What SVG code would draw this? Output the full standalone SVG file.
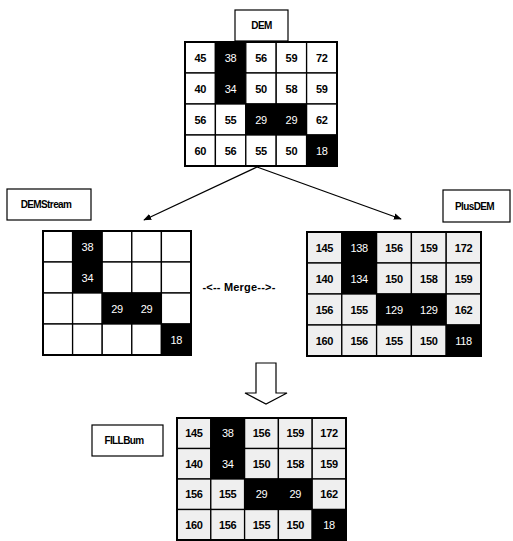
<svg xmlns="http://www.w3.org/2000/svg" width="513" height="541" viewBox="0 0 513 541">
<style>
.lbl{fill:#fff;stroke:#000;stroke-width:1.2}
.lt{font-family:"Liberation Sans",Arial,sans-serif;font-size:10px;font-weight:bold;fill:#000;text-anchor:middle;letter-spacing:-0.6px}
.w{fill:#fff;stroke:#000;stroke-width:1.3}
.g{fill:#efefef;stroke:#000;stroke-width:1.3}
.k{fill:#000;stroke:#000;stroke-width:1.3}
.n{font-family:"Liberation Sans",Arial,sans-serif;font-size:11px;font-weight:bold;fill:#000;text-anchor:middle;letter-spacing:-0.3px}
.nw{font-family:"Liberation Sans",Arial,sans-serif;font-size:11px;fill:#fff;text-anchor:middle;letter-spacing:-0.3px}
.frame{fill:none;stroke:#000;stroke-width:2}
.conn{stroke:#000;stroke-width:1.3;fill:none}
</style>
<defs>
<marker id="ah" viewBox="0 0 10 10" refX="9" refY="5" markerWidth="8" markerHeight="8" markerUnits="userSpaceOnUse" orient="auto"><path d="M0,1 L10,5 L0,9 z" fill="#000"/></marker>
</defs>

<g id="DEM-label"><rect class="lbl" x="235" y="10" width="53" height="31"/><text class="lt" x="261.5" y="29">DEM</text></g>

<g id="DEM">
<rect class="w" x="185" y="42" width="30.4" height="31"/><text class="n" x="200.2" y="61.5">45</text>
<rect class="k" x="215.4" y="42" width="30.4" height="31"/><text class="nw" x="230.6" y="61.5">38</text>
<rect class="w" x="245.8" y="42" width="30.4" height="31"/><text class="n" x="261" y="61.5">56</text>
<rect class="w" x="276.2" y="42" width="30.4" height="31"/><text class="n" x="291.4" y="61.5">59</text>
<rect class="w" x="306.6" y="42" width="30.4" height="31"/><text class="n" x="321.8" y="61.5">72</text>
<rect class="w" x="185" y="73" width="30.4" height="31"/><text class="n" x="200.2" y="92.5">40</text>
<rect class="k" x="215.4" y="73" width="30.4" height="31"/><text class="nw" x="230.6" y="92.5">34</text>
<rect class="w" x="245.8" y="73" width="30.4" height="31"/><text class="n" x="261" y="92.5">50</text>
<rect class="w" x="276.2" y="73" width="30.4" height="31"/><text class="n" x="291.4" y="92.5">58</text>
<rect class="w" x="306.6" y="73" width="30.4" height="31"/><text class="n" x="321.8" y="92.5">59</text>
<rect class="w" x="185" y="104" width="30.4" height="31"/><text class="n" x="200.2" y="123.5">56</text>
<rect class="w" x="215.4" y="104" width="30.4" height="31"/><text class="n" x="230.6" y="123.5">55</text>
<rect class="k" x="245.8" y="104" width="30.4" height="31"/><text class="nw" x="261" y="123.5">29</text>
<rect class="k" x="276.2" y="104" width="30.4" height="31"/><text class="nw" x="291.4" y="123.5">29</text>
<rect class="w" x="306.6" y="104" width="30.4" height="31"/><text class="n" x="321.8" y="123.5">62</text>
<rect class="w" x="185" y="135" width="30.4" height="31"/><text class="n" x="200.2" y="154.5">60</text>
<rect class="w" x="215.4" y="135" width="30.4" height="31"/><text class="n" x="230.6" y="154.5">56</text>
<rect class="w" x="245.8" y="135" width="30.4" height="31"/><text class="n" x="261" y="154.5">55</text>
<rect class="w" x="276.2" y="135" width="30.4" height="31"/><text class="n" x="291.4" y="154.5">50</text>
<rect class="k" x="306.6" y="135" width="30.4" height="31"/><text class="nw" x="321.8" y="154.5">18</text>
<rect class="frame" x="185" y="42" width="152" height="124"/>
</g>

<g id="connectors">
<line class="conn" x1="257" y1="167" x2="144" y2="220" marker-end="url(#ah)"/>
<line class="conn" x1="257" y1="167" x2="401" y2="219" marker-end="url(#ah)"/>
<path d="M256,363 L276,363 L276,393 L287,393 L266,404 L245,393 L256,393 Z" fill="#fff" stroke="#000" stroke-width="1.2"/>
</g>

<g id="DEMStream-label"><rect class="lbl" x="7" y="189" width="84" height="31"/><text class="lt" x="46" y="208">DEMStream</text></g>

<g id="DEMStream">
<rect class="w" x="43" y="231" width="29.6" height="31"/>
<rect class="k" x="72.6" y="231" width="29.6" height="31"/><text class="nw" x="87.4" y="250.5">38</text>
<rect class="w" x="102.2" y="231" width="29.6" height="31"/>
<rect class="w" x="131.8" y="231" width="29.6" height="31"/>
<rect class="w" x="161.4" y="231" width="29.6" height="31"/>
<rect class="w" x="43" y="262" width="29.6" height="31"/>
<rect class="k" x="72.6" y="262" width="29.6" height="31"/><text class="nw" x="87.4" y="281.5">34</text>
<rect class="w" x="102.2" y="262" width="29.6" height="31"/>
<rect class="w" x="131.8" y="262" width="29.6" height="31"/>
<rect class="w" x="161.4" y="262" width="29.6" height="31"/>
<rect class="w" x="43" y="293" width="29.6" height="31"/>
<rect class="w" x="72.6" y="293" width="29.6" height="31"/>
<rect class="k" x="102.2" y="293" width="29.6" height="31"/><text class="nw" x="117" y="312.5">29</text>
<rect class="k" x="131.8" y="293" width="29.6" height="31"/><text class="nw" x="146.6" y="312.5">29</text>
<rect class="w" x="161.4" y="293" width="29.6" height="31"/>
<rect class="w" x="43" y="324" width="29.6" height="31"/>
<rect class="w" x="72.6" y="324" width="29.6" height="31"/>
<rect class="w" x="102.2" y="324" width="29.6" height="31"/>
<rect class="w" x="131.8" y="324" width="29.6" height="31"/>
<rect class="k" x="161.4" y="324" width="29.6" height="31"/><text class="nw" x="176.2" y="343.5">18</text>
<rect class="frame" x="43" y="231" width="148" height="124"/>
</g>

<g id="Merge"><text class="lt" x="239" y="291" style="font-size:11px;letter-spacing:0.2px;text-anchor:middle">-&lt;-- Merge--&gt;-</text></g>

<g id="PlusDEM-label"><rect class="lbl" x="443" y="190" width="67" height="32"/><text class="lt" x="474.5" y="209.5">PlusDEM</text></g>

<g id="PlusDEM">
<rect class="g" x="307" y="232" width="34.8" height="31"/><text class="n" x="324.4" y="251.5">145</text>
<rect class="k" x="341.8" y="232" width="34.8" height="31"/><text class="nw" x="359.2" y="251.5">138</text>
<rect class="g" x="376.6" y="232" width="34.8" height="31"/><text class="n" x="394" y="251.5">156</text>
<rect class="g" x="411.4" y="232" width="34.8" height="31"/><text class="n" x="428.8" y="251.5">159</text>
<rect class="g" x="446.2" y="232" width="34.8" height="31"/><text class="n" x="463.6" y="251.5">172</text>
<rect class="g" x="307" y="263" width="34.8" height="31"/><text class="n" x="324.4" y="282.5">140</text>
<rect class="k" x="341.8" y="263" width="34.8" height="31"/><text class="nw" x="359.2" y="282.5">134</text>
<rect class="g" x="376.6" y="263" width="34.8" height="31"/><text class="n" x="394" y="282.5">150</text>
<rect class="g" x="411.4" y="263" width="34.8" height="31"/><text class="n" x="428.8" y="282.5">158</text>
<rect class="g" x="446.2" y="263" width="34.8" height="31"/><text class="n" x="463.6" y="282.5">159</text>
<rect class="g" x="307" y="294" width="34.8" height="31"/><text class="n" x="324.4" y="313.5">156</text>
<rect class="g" x="341.8" y="294" width="34.8" height="31"/><text class="n" x="359.2" y="313.5">155</text>
<rect class="k" x="376.6" y="294" width="34.8" height="31"/><text class="nw" x="394" y="313.5">129</text>
<rect class="k" x="411.4" y="294" width="34.8" height="31"/><text class="nw" x="428.8" y="313.5">129</text>
<rect class="g" x="446.2" y="294" width="34.8" height="31"/><text class="n" x="463.6" y="313.5">162</text>
<rect class="g" x="307" y="325" width="34.8" height="31"/><text class="n" x="324.4" y="344.5">160</text>
<rect class="g" x="341.8" y="325" width="34.8" height="31"/><text class="n" x="359.2" y="344.5">156</text>
<rect class="g" x="376.6" y="325" width="34.8" height="31"/><text class="n" x="394" y="344.5">155</text>
<rect class="g" x="411.4" y="325" width="34.8" height="31"/><text class="n" x="428.8" y="344.5">150</text>
<rect class="k" x="446.2" y="325" width="34.8" height="31"/><text class="nw" x="463.6" y="344.5">118</text>
<rect class="frame" x="307" y="232" width="174" height="124"/>
</g>

<g id="FILLBum-label"><rect class="lbl" x="92" y="425" width="71" height="31"/><text class="lt" x="124" y="444">FILLBum</text></g>

<g id="FILLBum">
<rect class="g" x="177" y="418" width="33.8" height="30.5"/><text class="n" x="193.9" y="437.3">145</text>
<rect class="k" x="210.8" y="418" width="33.8" height="30.5"/><text class="nw" x="227.7" y="437.3">38</text>
<rect class="g" x="244.6" y="418" width="33.8" height="30.5"/><text class="n" x="261.5" y="437.3">156</text>
<rect class="g" x="278.4" y="418" width="33.8" height="30.5"/><text class="n" x="295.3" y="437.3">159</text>
<rect class="g" x="312.2" y="418" width="33.8" height="30.5"/><text class="n" x="329.1" y="437.3">172</text>
<rect class="g" x="177" y="448.5" width="33.8" height="30.5"/><text class="n" x="193.9" y="467.8">140</text>
<rect class="k" x="210.8" y="448.5" width="33.8" height="30.5"/><text class="nw" x="227.7" y="467.8">34</text>
<rect class="g" x="244.6" y="448.5" width="33.8" height="30.5"/><text class="n" x="261.5" y="467.8">150</text>
<rect class="g" x="278.4" y="448.5" width="33.8" height="30.5"/><text class="n" x="295.3" y="467.8">158</text>
<rect class="g" x="312.2" y="448.5" width="33.8" height="30.5"/><text class="n" x="329.1" y="467.8">159</text>
<rect class="g" x="177" y="479" width="33.8" height="30.5"/><text class="n" x="193.9" y="498.3">156</text>
<rect class="g" x="210.8" y="479" width="33.8" height="30.5"/><text class="n" x="227.7" y="498.3">155</text>
<rect class="k" x="244.6" y="479" width="33.8" height="30.5"/><text class="nw" x="261.5" y="498.3">29</text>
<rect class="k" x="278.4" y="479" width="33.8" height="30.5"/><text class="nw" x="295.3" y="498.3">29</text>
<rect class="g" x="312.2" y="479" width="33.8" height="30.5"/><text class="n" x="329.1" y="498.3">162</text>
<rect class="g" x="177" y="509.5" width="33.8" height="30.5"/><text class="n" x="193.9" y="528.8">160</text>
<rect class="g" x="210.8" y="509.5" width="33.8" height="30.5"/><text class="n" x="227.7" y="528.8">156</text>
<rect class="g" x="244.6" y="509.5" width="33.8" height="30.5"/><text class="n" x="261.5" y="528.8">155</text>
<rect class="g" x="278.4" y="509.5" width="33.8" height="30.5"/><text class="n" x="295.3" y="528.8">150</text>
<rect class="k" x="312.2" y="509.5" width="33.8" height="30.5"/><text class="nw" x="329.1" y="528.8">18</text>
<rect class="frame" x="177" y="418" width="169" height="122"/>
</g>
</svg>
